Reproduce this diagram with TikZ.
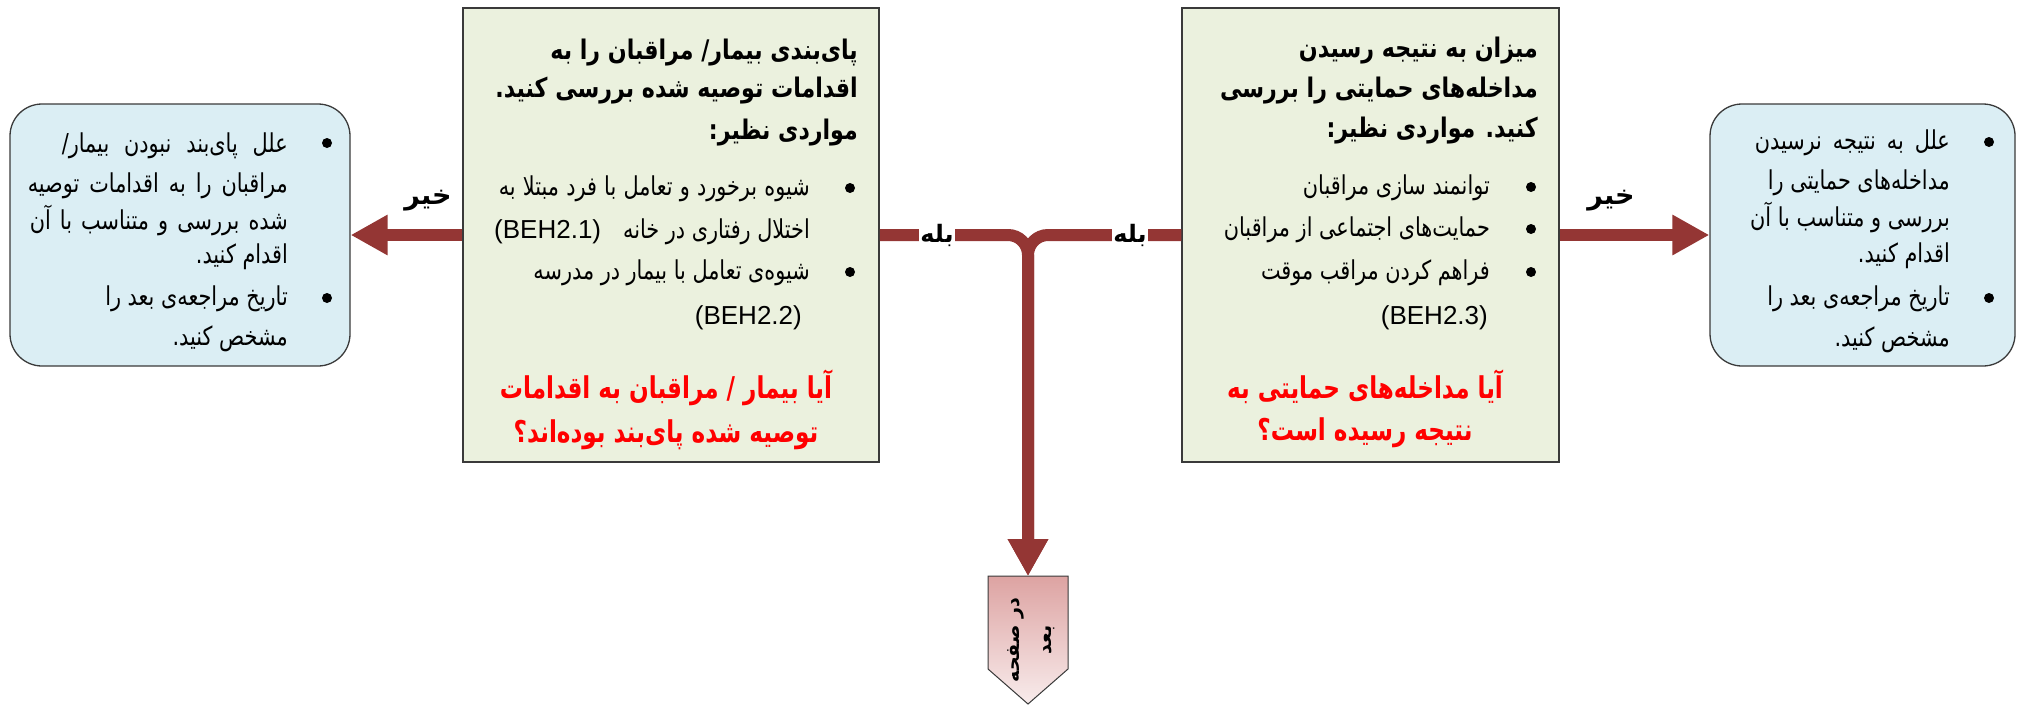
\documentclass[tikz,border=0pt]{standalone}
\usepackage{fontspec}
\usetikzlibrary{arrows.meta}
\TeXXeTstate=1
\newfontfamily\fafont[Script=Arabic]{DejaVu Sans}
\newfontfamily\fabody[Script=Arabic,FakeStretch=0.8]{DejaVu Sans}
\newfontfamily\fattl[Script=Arabic,FakeStretch=0.82]{DejaVu Sans}
\newfontfamily\faq[Script=Arabic,FakeStretch=0.77]{DejaVu Sans}
\newfontfamily\latfont{Liberation Sans}
\newcommand\fa[1]{\beginR #1\endR}
\newcommand\lt[1]{{\latfont\fontsize{26}{30}\selectfont #1}}
\definecolor{gfill}{HTML}{EBF1DE}
\definecolor{bfill}{HTML}{DBEEF4}
\definecolor{arr}{HTML}{943634}
\definecolor{pktop}{HTML}{DDA3A2}
\definecolor{pkbot}{HTML}{F8ECEC}
\definecolor{bord}{HTML}{3A3A3A}
\definecolor{qred}{HTML}{FF0000}
\tikzset{
  gbox/.style={draw=bord, line width=1.5pt, fill=gfill, inner sep=0pt},
  bbox/.style={draw=bord, line width=1.3pt, fill=bfill, inner sep=0pt, rounded corners=32pt},
  body/.style={font=\fabody\fontsize{26}{30}\selectfont, inner sep=0pt, anchor=base east},
  ttl/.style={font=\fattl\bfseries\fontsize{27}{31}\selectfont, inner sep=0pt, anchor=base east},
  qst/.style={font=\faq\bfseries\fontsize{30}{34}\selectfont, text=qred, inner sep=0pt, anchor=base},
  lbl/.style={font=\fafont\bfseries\fontsize{27}{30}\selectfont, inner sep=1pt},
  conn/.style={draw=arr, line width=12pt, -{Triangle[width=38pt,length=37pt]}},
  bul/.style={circle, fill=black, inner sep=0pt, minimum size=10pt}
}
\begin{document}
\begin{tikzpicture}[x=1pt,y=-1pt]
\useasboundingbox (0,0) rectangle (2020,704);

% boxes
\node[gbox, minimum width=416pt, minimum height=454pt] (lg) at (671,235) {};
\node[gbox, minimum width=377pt, minimum height=454pt] (rg) at (1370.5,235) {};
\node[bbox, minimum width=340pt, minimum height=262pt] (lb) at (180,235) {};
\node[bbox, minimum width=305pt, minimum height=262pt] (rb) at (1862.5,235) {};

% off-page connector
\shade[top color=pktop, bottom color=pkbot, draw=bord, line width=1pt]
  (988,576) -- (1068,576) -- (1068,669) -- (1028,704) -- (988,669) -- cycle;
\coordinate (pg) at (1028,576);
\node[font=\fafont\bfseries\fontsize{19}{32}\selectfont, rotate=90, align=center, inner sep=0pt] (pgt) at (1031,640)
  {\beginR در صفحه\endR\\\beginR بعد\endR};

% connectors
\coordinate (j) at (1028,235);
\draw[conn] (lg.west) -- (lb.east);
\draw[conn] (rg.east) -- (rb.west);
\draw[conn, rounded corners=20pt] (lg.east) -- (j) -- (pg);
\draw[conn, rounded corners=20pt] (rg.west) -- (j) -- (pg);

\node[lbl] (no1) at (428,201) {\beginR خیر\endR};
\node[lbl] (no2) at (1611,201) {\beginR خیر\endR};
\node[lbl, font=\fafont\bfseries\fontsize{24}{28}\selectfont, fill=white] (yes1) at (937,235) {\beginR بله\endR};
\node[lbl, font=\fafont\bfseries\fontsize{24}{28}\selectfont, fill=white] (yes2) at (1130,235) {\beginR بله\endR};

% left blue text
\node[bul] (lbb1) at (327,143) {};
\node[bul] (lbb2) at (327,298) {};
\node[body] (lb1) at (288,152) {\hbox to 226pt{\beginR علل پای‌بند نبودن بیمار/\endR}};
\node[body] (lb2) at (288,192) {\hbox to 260pt{\beginR مراقبان را به اقدامات توصیه\endR}};
\node[body] (lb3) at (288,229) {\hbox to 258pt{\beginR شده بررسی و متناسب با آن\endR}};
\node[body] (lb4) at (288,263) {\beginR اقدام کنید.\endR};
\node[body] (lb5) at (288,305) {\beginR تاریخ مراجعه‌ی بعد را\endR};
\node[body] (lb6) at (288,345) {\beginR مشخص کنید.\endR};

% right blue text
\node[bul] (rbb1) at (1989,142) {};
\node[bul] (rbb2) at (1989,298) {};
\node[body] (rb1) at (1950,149) {\hbox to 195pt{\beginR علل به نتیجه نرسیدن\endR}};
\node[body] (rb2) at (1950,189) {\beginR مداخله‌های حمایتی را\endR};
\node[body] (rb3) at (1950,226) {\beginR بررسی و متناسب با آن\endR};
\node[body] (rb4) at (1950,262) {\beginR اقدام کنید.\endR};
\node[body] (rb5) at (1950,305) {\beginR تاریخ مراجعه‌ی بعد را\endR};
\node[body] (rb6) at (1950,346) {\beginR مشخص کنید.\endR};

% left green text
\node[ttl] (lt1) at (858,59) {\beginR پای‌بندی بیمار/ مراقبان را به\endR};
\node[ttl] (lt2) at (858,97) {\beginR اقدامات توصیه شده بررسی کنید.\endR};
\node[ttl] (lt3) at (858,139) {\beginR مواردی نظیر:\endR};
\node[bul] (lgb1) at (850,188) {};
\node[bul] (lgb2) at (850,272) {};
\node[body] (lg1) at (810,195) {\hbox to 311pt{\beginR شیوه برخورد و تعامل با فرد مبتلا به\endR}};
\node[body] (lg2) at (810,238) {\beginR اختلال رفتاری در خانه\endR};
\node[body, anchor=base west] (lg2b) at (494,238) {\lt{(BEH2.1)}};
\node[body] (lg3) at (810,279) {\beginR شیوه‌ی تعامل با بیمار در مدرسه\endR};
\node[body] (lg4) at (802,324) {\lt{(BEH2.2)}};
\node[qst] (lq1) at (666,398) {\beginR آیا بیمار / مراقبان به اقدامات\endR};
\node[qst] (lq2) at (666,442) {\beginR توصیه شده پای‌بند بوده‌اند؟\endR};

% right green text
\node[ttl] (rt1) at (1538,57) {\beginR میزان به نتیجه رسیدن\endR};
\node[ttl] (rt2) at (1538,97) {\beginR مداخله‌های حمایتی را بررسی\endR};
\node[ttl] (rt3) at (1538,137) {\beginR کنید. مواردی نظیر:\endR};
\node[bul] (rgb1) at (1531,187) {};
\node[bul] (rgb2) at (1531,229) {};
\node[bul] (rgb3) at (1531,272) {};
\node[body] (rg1) at (1490,194) {\beginR توانمند سازی مراقبان\endR};
\node[body] (rg2) at (1490,236) {\beginR حمایت‌های اجتماعی از مراقبان\endR};
\node[body] (rg3) at (1490,279) {\beginR فراهم کردن مراقب موقت\endR};
\node[body] (rg4) at (1488,324) {\lt{(BEH2.3)}};
\node[qst] (rq1) at (1365,398) {\beginR آیا مداخله‌های حمایتی به\endR};
\node[qst] (rq2) at (1365,440) {\beginR نتیجه رسیده است؟\endR};
\end{tikzpicture}
\end{document}
